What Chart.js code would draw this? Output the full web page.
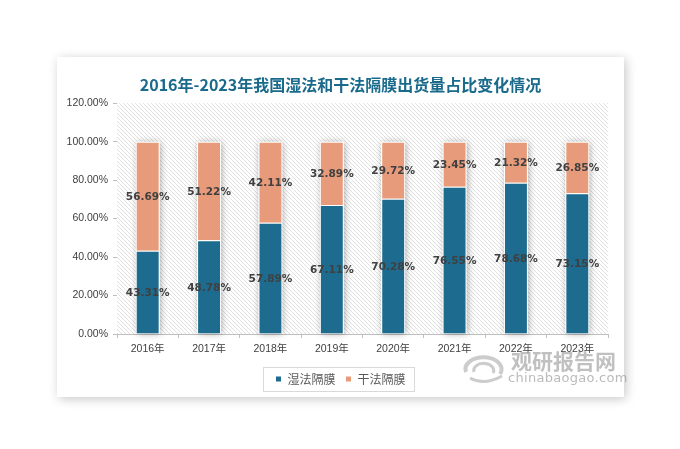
<!DOCTYPE html>
<html><head><meta charset="utf-8">
<script src="https://cdn.jsdelivr.net/npm/chart.js@4.4.0/dist/chart.umd.min.js"></script>
<style>
html,body{margin:0;padding:0;background:#fff;width:680px;height:449px;overflow:hidden;position:relative;}
#card{position:absolute;left:57px;top:57px;width:567px;height:340px;background:#fff;box-shadow:2px 2px 10px rgba(0,0,0,0.22);}
#c{position:absolute;left:0;top:0;}
.wm1{position:absolute;left:511px;top:345px;font:bold 21px "Noto Sans CJK SC";color:rgba(140,140,140,0.55);letter-spacing:0px;white-space:nowrap;}
.wm2{position:absolute;left:508px;top:370px;font:13px "DejaVu Sans";color:rgba(140,140,140,0.6);letter-spacing:0.3px;white-space:nowrap;}
.logo{position:absolute;left:460px;top:352px;opacity:0.5;}
</style></head>
<body>
<div id="card"><canvas id="c" width="567" height="340"></canvas></div>
<svg class="logo" width="48" height="34" viewBox="0 0 48 34">
<path d="M6 20 A18 12 0 1 1 40 22" fill="none" stroke="#9a9a9a" stroke-width="4"/>
<path d="M14 20 A10 7 0 1 1 33 21" fill="none" stroke="#9a9a9a" stroke-width="3"/>
<path d="M10 26 Q24 34 42 24" fill="none" stroke="#9a9a9a" stroke-width="3"/>
</svg>
<div class="wm1">观研报告网</div>
<div class="wm2">chinabaogao.com</div>
<script>
const years = ['2016年','2017年','2018年','2019年','2020年','2021年','2022年','2023年'];
const wetShare = [43.31,48.78,57.89,67.11,70.28,76.55,78.68,73.15];
const dryShare = [56.69,51.22,42.11,32.89,29.72,23.45,21.32,26.85];
const seriesNames = ['湿法隔膜','干法隔膜'];
const titleText = '2016年-2023年我国湿法和干法隔膜出货量占比变化情况';

const numFont = '"Liberation Sans", Arial, "Noto Sans CJK SC", sans-serif';
const cjkFont = '"Noto Sans CJK SC", "Liberation Sans", sans-serif';

function makePattern(){
  const p=document.createElement('canvas'); p.width=4; p.height=4;
  const g=p.getContext('2d');
  g.fillStyle='#ffffff'; g.fillRect(0,0,4,4);
  g.strokeStyle='#e0e0e0'; g.lineWidth=1;
  g.beginPath(); g.moveTo(-1,-1); g.lineTo(5,5); g.moveTo(-1,3); g.lineTo(1,5); g.moveTo(3,-1); g.lineTo(5,1); g.stroke();
  return g.createPattern(p,'repeat');
}

const bgPlugin={id:'bg',beforeDatasetsDraw(chart){
  const {ctx,chartArea:a}=chart; ctx.save();
  ctx.fillStyle=makePattern(); ctx.fillRect(a.left,a.top,a.right-a.left,a.bottom-a.top);
  const m0=chart.getDatasetMeta(0), m1=chart.getDatasetMeta(1);
  ctx.shadowColor='rgba(0,0,0,0.35)'; ctx.shadowBlur=7; ctx.shadowOffsetX=1; ctx.shadowOffsetY=0;
  ctx.fillStyle='#ffffff';
  m0.data.forEach((b,i)=>{
    const p0=b.getProps(['x','base','width'],true); const p1=m1.data[i].getProps(['y'],true);
    ctx.fillRect(p0.x-p0.width/2,p1.y,p0.width,p0.base-p1.y);
  });
  ctx.restore();
}};

const labelPlugin={id:'lbl',afterDatasetsDraw(chart){
  const ctx=chart.ctx; ctx.save();
  ctx.font='bold 10.5px "DejaVu Sans"'; ctx.fillStyle='#404040'; ctx.textAlign='center'; ctx.textBaseline='middle';
  chart.data.datasets.forEach((ds,i)=>{
    chart.getDatasetMeta(i).data.forEach((bar,j)=>{
      const p=bar.getProps(['x','y','base'],true);
      ctx.fillText(ds.data[j].toFixed(2)+'%',p.x,(p.y+p.base)/2+1);
    });
  });
  ctx.restore();
}};

const legendBox={id:'lgbox',afterDraw(chart){
  const hb=chart.legend.legendHitBoxes; if(!hb||!hb.length) return;
  const l=Math.min(...hb.map(h=>h.left)), r=Math.max(...hb.map(h=>h.left+h.width));
  const t=Math.min(...hb.map(h=>h.top)), b=Math.max(...hb.map(h=>h.top+h.height));
  const ctx=chart.ctx; ctx.save(); ctx.strokeStyle='#d9d9d9'; ctx.lineWidth=1;
  ctx.strokeRect(Math.round(l-12)+0.5,Math.round(t-6)+0.5,Math.round(r-l+21),Math.round(b-t+12));
  ctx.restore();
}};

new Chart(document.getElementById('c'),{
  type:'bar',
  data:{labels:years,datasets:[
    {label:seriesNames[0],data:wetShare,backgroundColor:'#1d6b8e',borderColor:'#ffffff',borderWidth:1,barPercentage:0.39,categoryPercentage:1},
    {label:seriesNames[1],data:dryShare,backgroundColor:'#e89b7a',borderColor:'#ffffff',borderWidth:1,barPercentage:0.39,categoryPercentage:1}
  ]},
  options:{
    responsive:false,animation:false,devicePixelRatio:1,
    layout:{padding:{left:0,right:0,top:0,bottom:2}},
    plugins:{
      title:{display:true,text:titleText,color:'#1a6a8c',font:{size:16,weight:'bold',family:cjkFont},padding:{top:18,bottom:9}},
      legend:{position:'bottom',labels:{boxWidth:6,boxHeight:6,color:'#595959',font:{size:12,family:cjkFont},padding:10}},
      tooltip:{enabled:false}
    },
    scales:{
      x:{stacked:true,grid:{offset:true,drawOnChartArea:false,drawTicks:true,tickLength:4,color:'#bfbfbf'},border:{display:true,color:'#bfbfbf'},
         ticks:{color:'#404040',font:{size:10.5,family:numFont},padding:5,maxRotation:0},afterFit(s){s.height=29;}},
      y:{stacked:true,min:0,max:120,grid:{drawOnChartArea:false,drawTicks:true,tickLength:4,color:'#bfbfbf'},border:{display:true,color:'#bfbfbf'},
         ticks:{stepSize:20,color:'#404040',font:{size:10.5,family:numFont},padding:5,callback:v=>v.toFixed(2)+'%'},afterFit(s){s.width=60;}},
      y2:{position:'right',display:true,grid:{display:false},border:{display:false},ticks:{display:false},afterFit(s){s.width=16;}}
    }
  },
  plugins:[bgPlugin,labelPlugin,legendBox]
});
</script>
</body></html>
